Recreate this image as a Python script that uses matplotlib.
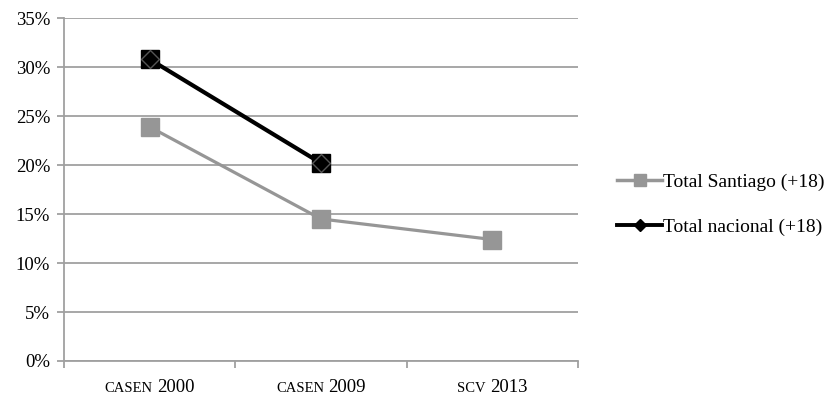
import matplotlib
matplotlib.use("Agg")
import matplotlib.pyplot as plt
from matplotlib.offsetbox import TextArea, HPacker, AnnotationBbox
from matplotlib.lines import Line2D

plt.rcParams['font.family'] = ['Liberation Serif', 'DejaVu Serif']

# survey source (small caps) + year for each category
sources = ['CASEN', 'CASEN', 'SCV']
years = ['2000', '2009', '2013']

santiago = [23.9, 14.5, 12.4]   # Total Santiago (+18)
nacional = [30.8, 20.2]          # Total nacional (+18)

grey = '#969696'
gridc = '#a0a0a0'

fig = plt.figure(figsize=(8.33, 3.95), dpi=100)
ax = fig.add_axes([0.0768, 0.0861, 0.617, 0.868])

x = list(range(len(years)))

ax.plot(x, santiago, color=grey, lw=2.3, marker='s', ms=13,
        mfc=grey, mec=grey, zorder=3)
ax.plot(x[:2], nacional, color='black', lw=3, zorder=4)
# black square behind a grey-edged diamond
ax.plot(x[:2], nacional, ls='none', marker='s', ms=13, mfc='black',
        mec='black', zorder=5)
ax.plot(x[:2], nacional, ls='none', marker='D', ms=9, mfc='black',
        mec='#555555', mew=1, zorder=6)

ax.set_xlim(-0.5, 2.5)
ax.set_ylim(0, 35)
ax.set_yticks(range(0, 36, 5))
ax.set_yticklabels([f'{v}%' for v in range(0, 36, 5)], fontsize=13.5)
ax.yaxis.grid(True, color=gridc, lw=1.3)
ax.set_axisbelow(True)

for s in ['top', 'right']:
    ax.spines[s].set_visible(False)
for s in ['left', 'bottom']:
    ax.spines[s].set_color(gridc)
    ax.spines[s].set_linewidth(1.3)

ax.tick_params(axis='y', color=gridc, width=1.3, length=5, pad=5)
ax.set_xticks([-0.5, 0.5, 1.5, 2.5])
ax.set_xticklabels([])
ax.tick_params(axis='x', color=gridc, width=1.3, length=5)

# category labels: small-caps source followed by the year
for i in x:
    box = HPacker(children=[
        TextArea(sources[i], textprops=dict(fontsize=10.5)),
        TextArea(years[i], textprops=dict(fontsize=13.5)),
    ], align='baseline', pad=0, sep=3)
    ab = AnnotationBbox(box, (i, 0), xycoords=('data', 'axes fraction'),
                        xybox=(0, -19), boxcoords='offset points',
                        frameon=False, box_alignment=(0.5, 0.5))
    ax.add_artist(ab)

handles = [
    Line2D([], [], color=grey, lw=2.5, marker='s', ms=8.5, mfc=grey, mec=grey),
    Line2D([], [], color='black', lw=2.8, marker='D', ms=6.5, mfc='black', mec='black'),
]
fig.legend(handles, ['Total Santiago (+18)', 'Total nacional (+18)'],
           loc='center left', bbox_to_anchor=(0.741, 0.482), frameon=False,
           fontsize=14, handlelength=2.3, handletextpad=0.05,
           labelspacing=1.4, borderpad=0, borderaxespad=0)

fig.savefig('out.png', dpi=100)
